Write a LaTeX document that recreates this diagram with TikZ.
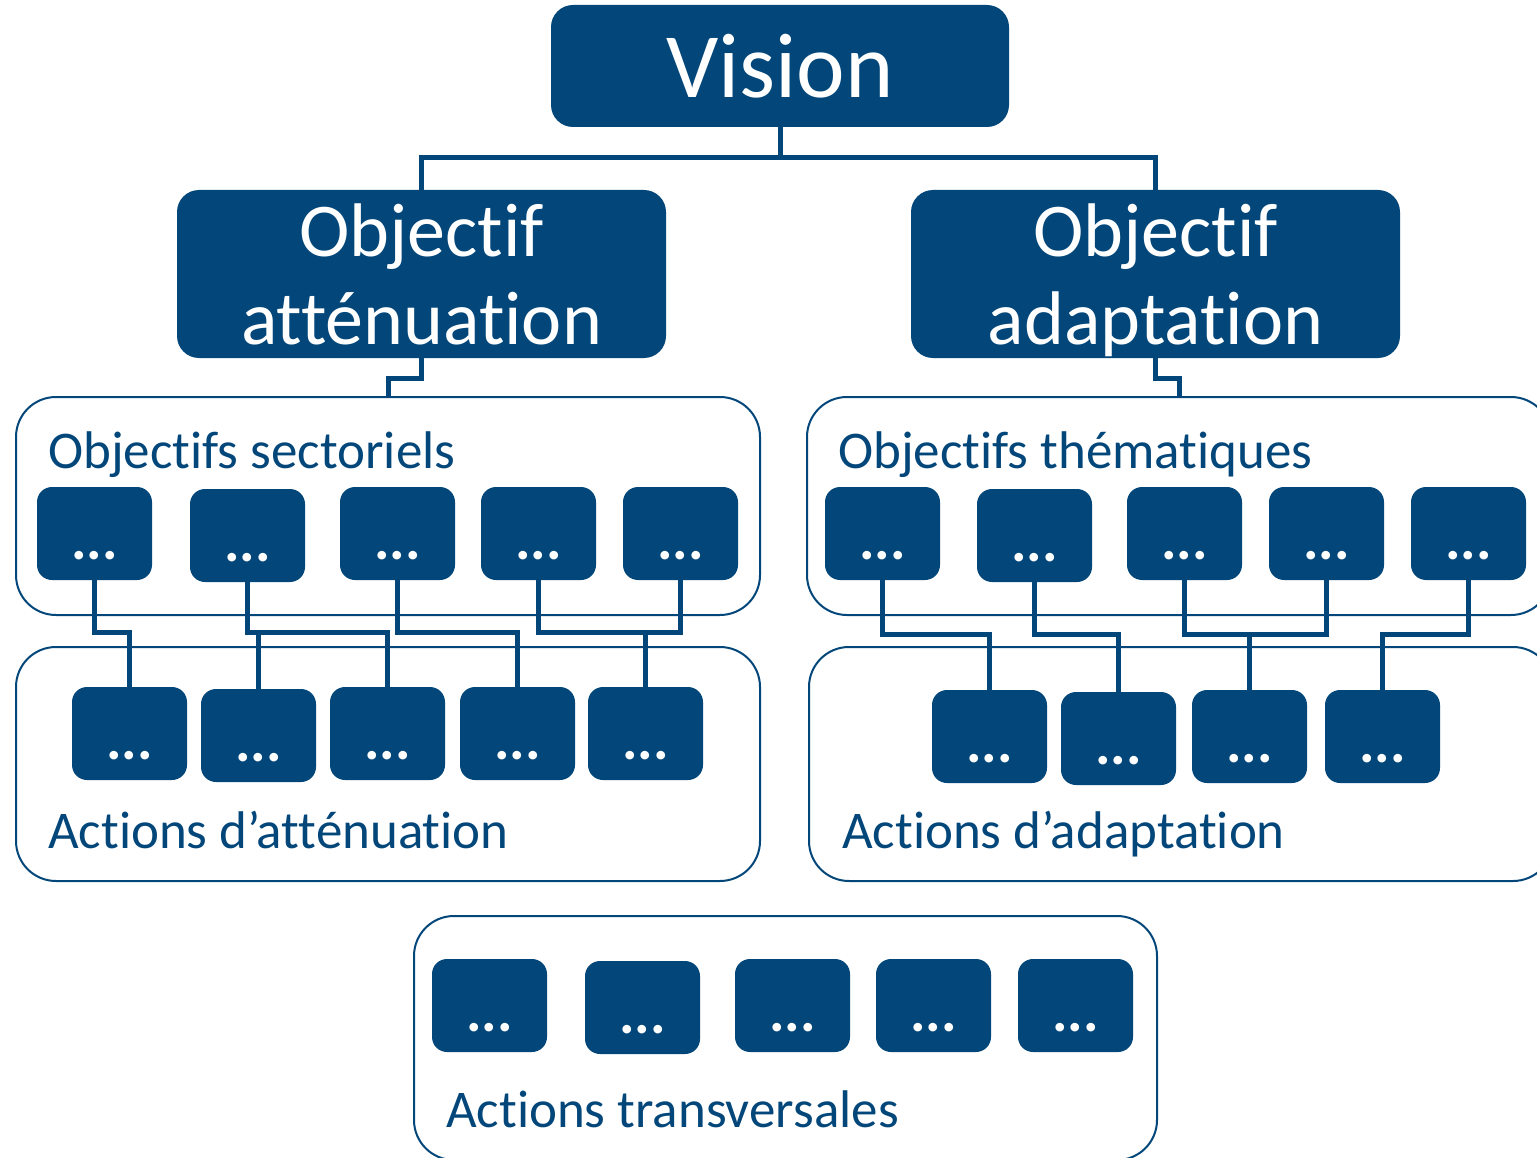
\documentclass[tikz,border=0pt]{standalone}
\usepackage{fontspec}
\setmainfont{Carlito}[Ligatures=NoCommon]
\definecolor{navy}{RGB}{3,71,122}

\begin{document}
\begin{tikzpicture}
[x=1pt,y=-1pt,%
  headBox/.style={shape=rectangle,fill=navy,text=white,rounded corners=22pt,
    inner sep=0pt,align=center,text depth=0pt},%
  dotBox/.style={shape=rectangle,fill=navy,text=white,rounded corners=15pt,
    minimum width=115pt,minimum height=93pt,inner sep=0pt,
    text height=51pt,text depth=0pt,font=\bfseries\fontsize{58}{60}\selectfont},%
  groupBox/.style={shape=rectangle,draw=navy,line width=2pt,rounded corners=40pt,
    inner sep=0pt,minimum width=744pt},%
  groupLabel/.style={text=navy,anchor=base west,inner sep=0pt,
    font=\fontsize{53}{60}\selectfont},%
  linkDecorate/.style={draw=navy,line width=5pt}]
\clip (0,0) rectangle (1537,1158);
%% frames
\node (secto) at (388,506) [groupBox,minimum height=218pt] {};
\node (theme) at (1179,506) [groupBox,minimum height=218pt] {};
\node (attAct) at (388,764) [groupBox,minimum height=234pt] {};
\node (adaAct) at (1181,764) [groupBox,minimum height=234pt] {};
\node (trans) at (785.5,1038) [groupBox,minimum width=743pt,minimum height=244pt] {};
%% frame labels
\node (sectoLabel) at (48,468) [groupLabel] {Objectifs sectoriels};
\node (themeLabel) at (838,468) [groupLabel] {Objectifs thématiques};
\node (attLabel) at (48,848) [groupLabel] {Actions d’atténuation};
\node (adaLabel) at (842,848) [groupLabel] {Actions d’adaptation};
\node (transLabel) at (446,1127) [groupLabel] {Actions transversales};
%% head boxes
\node (vision) at (780,66) [headBox,minimum width=458pt,minimum height=122pt,
  font=\fontsize{92}{100}\selectfont] {Vision};
\node (att) at (421.5,274) [headBox,minimum width=489pt,minimum height=168pt,
  font=\fontsize{76}{88}\selectfont] {Objectif\\atténuation};
\node (ada) at (1155.5,274) [headBox,minimum width=489pt,minimum height=168pt,
  font=\fontsize{76}{88}\selectfont] {Objectif\\adaptation};
%% small boxes
\foreach \nodename/\x/\y in {
  s1/94.5/533.5, s2/247.5/535.5, s3/397.5/533.5, s4/538.5/533.5, s5/680.5/533.5,
  a1/129.5/733.5, a2/258.5/735.5, a3/387.5/733.5, a4/517.5/733.5, a5/645.5/733.5,
  t1/882.5/533.5, t2/1034.5/535.5, t3/1184.5/533.5, t4/1326.5/533.5, t5/1468.5/533.5,
  b1/989.5/736.5, b2/1118.5/738.5, b3/1249.5/736.5, b4/1382.5/736.5,
  r1/489.5/1005.5, r2/642.5/1007.5, r3/792.5/1005.5, r4/933.5/1005.5, r5/1075.5/1005.5}
{
  \node (\nodename) at (\x,\y) [dotBox] {...};
}
%% links
\coordinate (busTop) at (0,158);
\coordinate (busL) at (0,632);
\coordinate (busR) at (0,634);
\draw[linkDecorate] (vision.south) -- (vision.south |- busTop) -| (att.north);
\draw[linkDecorate] (vision.south) -- (vision.south |- busTop) -| (ada.north);
\draw[linkDecorate] (att.south) -- ++(0,20) -| (secto.north);
\draw[linkDecorate] (ada.south) -- ++(0,20) -| (theme.north);
\draw[linkDecorate] (s1.south) -- (s1.south |- busL) -| (a1.north);
\draw[linkDecorate] (s2.south) -- (s2.south |- busL) -| (a3.north);
\draw[linkDecorate] (a2.north) -- (a2.north |- busL);
\draw[linkDecorate] (s3.south) -- (s3.south |- busL) -| (a4.north);
\draw[linkDecorate] (s4.south) -- (s4.south |- busL) -| (s5.south);
\draw[linkDecorate] (a5.north) -- (a5.north |- busL);
\draw[linkDecorate] (t1.south) -- (t1.south |- busR) -| (b1.north);
\draw[linkDecorate] (t2.south) -- (t2.south |- busR) -| (b2.north);
\draw[linkDecorate] (t3.south) -- (t3.south |- busR) -| (t4.south);
\draw[linkDecorate] (b3.north) -- (b3.north |- busR);
\draw[linkDecorate] (t5.south) -- (t5.south |- busR) -| (b4.north);
\end{tikzpicture}
\end{document}
